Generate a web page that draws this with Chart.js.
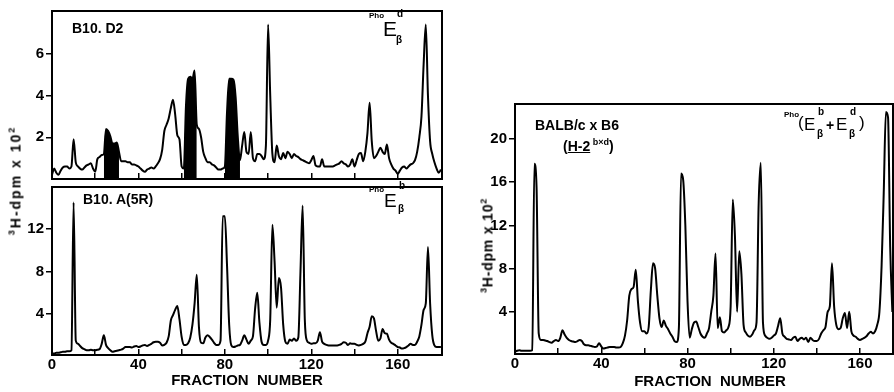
<!DOCTYPE html>
<html>
<head>
<meta charset="utf-8">
<script src="https://cdn.jsdelivr.net/npm/chart.js@4.4.1/dist/chart.umd.min.js"></script>
<style>
html,body{margin:0;padding:0;background:#fff;}
#wrap{position:relative;width:894px;height:392px;overflow:hidden;background:#fff;font-family:'Liberation Sans',Arial,sans-serif;color:#000;}
canvas{position:absolute;}
.t{position:absolute;white-space:nowrap;line-height:1;color:#000;z-index:5;}
.b{font-weight:bold;}
.rot{transform:rotate(-90deg);text-align:center;font-weight:bold;font-size:14px;}
.rot sup{font-size:9px;vertical-align:6px;}
.xt{font-weight:bold;font-size:15px;text-align:center;width:200px;}
</style>
</head>
<body>
<div id="wrap">
<canvas id="cA" width="450" height="190" style="left:0;top:0;width:450px;height:190px"></canvas>
<canvas id="cB" width="450" height="216" style="left:0;top:176px;width:450px;height:216px"></canvas>
<canvas id="cC" width="434" height="302" style="left:460px;top:90px;width:434px;height:302px"></canvas>

<div class="t rot" style="left:-45px;top:173px;width:120px;letter-spacing:2px"><sup>3</sup>H-dpm x 10<sup>2</sup></div>
<div class="t rot" style="left:427px;top:238px;width:120px;letter-spacing:0.8px"><sup>3</sup>H-dpm x 10<sup>2</sup></div>
<div class="t xt" style="left:147px;top:372px">FRACTION&nbsp; NUMBER</div>
<div class="t xt" style="left:610px;top:373px">FRACTION&nbsp; NUMBER</div>

<div class="t b" style="left:72px;top:21px;font-size:14px">B10. D2</div>
<div class="t b" style="left:83px;top:192px;font-size:14px">B10. A(5R)</div>
<div class="t b" style="left:535px;top:118px;font-size:14px">BALB/c x B6</div>
<div class="t b" style="left:563px;top:138px;font-size:14px">(<u>H-2</u><span style="font-size:9px;vertical-align:6px;font-weight:bold"> b×d</span>)</div>

<div class="t b" style="left:369px;top:12px;font-size:8px">Pho</div>
<div class="t" style="left:383px;top:18px;font-size:21px">E</div>
<div class="t b" style="left:397px;top:9px;font-size:10px">d</div>
<div class="t b" style="left:396px;top:35px;font-size:10px">β</div>

<div class="t b" style="left:369px;top:186px;font-size:8px">Pho</div>
<div class="t" style="left:384px;top:191px;font-size:19px">E</div>
<div class="t b" style="left:399px;top:181px;font-size:10px">b</div>
<div class="t b" style="left:398px;top:204px;font-size:10px">β</div>

<div class="t b" style="left:784px;top:111px;font-size:8px">Pho</div>
<div class="t" style="left:798px;top:114px;font-size:17px">(</div>
<div class="t" style="left:804px;top:116px;font-size:17px">E</div>
<div class="t b" style="left:818px;top:107px;font-size:10px">b</div>
<div class="t b" style="left:817px;top:129px;font-size:10px">β</div>
<div class="t b" style="left:826px;top:118px;font-size:14px">+</div>
<div class="t" style="left:836px;top:116px;font-size:17px">E</div>
<div class="t b" style="left:850px;top:107px;font-size:10px">d</div>
<div class="t b" style="left:849px;top:129px;font-size:10px">β</div>
<div class="t" style="left:859px;top:114px;font-size:17px">)</div>
</div>

<script>
// ---- categories: fraction numbers ----
const fractions = [0,1,2,3,4,5,6,7,8,9,10,11,12,13,14,15,16,17,18,19,20,21,22,23,24,25,26,27,28,29,30,31,32,33,34,35,36,37,38,39,40,41,42,43,44,45,46,47,48,49,50,51,52,53,54,55,56,57,58,59,60,61,62,63,64,65,66,67,68,69,70,71,72,73,74,75,76,77,78,79,80,81,82,83,84,85,86,87,88,89,90,91,92,93,94,95,96,97,98,99,100,101,102,103,104,105,106,107,108,109,110,111,112,113,114,115,116,117,118,119,120,121,122,123,124,125,126,127,128,129,130,131,132,133,134,135,136,137,138,139,140,141,142,143,144,145,146,147,148,149,150,151,152,153,154,155,156,157,158,159,160,161,162,163,164,165,166,167,168,169,170,171,172,173,174,175,176,177,178,179,180];

// ---- B10.D2 (PhoE beta d), 3H-dpm x 10^2 ----
const b10d2 = [0.2,0.5,0.3,0.2,0.4,0.55,0.6,0.6,0.5,0.6,
 1.9,0.8,0.6,0.5,0.45,0.55,0.65,0.7,0.75,0.5,
 0.35,0.95,1.05,1.15,1.2,2.4,2.3,2.05,1.7,1.7,
 1.75,1.3,0.85,0.85,0.85,0.8,0.8,0.7,0.7,0.65,
 0.6,0.5,0.4,0.35,0.45,0.5,0.55,0.5,0.6,0.75,
 0.95,1.4,2.3,2.6,2.9,3.4,3.8,3.1,2.1,1.9,
 0.6,0.5,3.5,4.8,4.9,4.8,5.2,2.6,2.4,2.0,
 1.3,1.0,0.8,0.8,0.7,0.65,0.55,0.45,0.45,0.5,
 0.6,3.2,4.8,4.8,4.75,3.9,2.0,0.9,1.6,2.25,
 1.3,1.2,2.25,1.0,0.85,1.2,1.2,1.1,0.95,1.6,
 7.4,4.0,1.2,0.8,1.6,1.1,0.95,1.25,1.0,1.3,
 1.2,1.0,1.2,1.1,1.05,0.95,0.9,0.85,0.8,0.75,
 0.9,1.1,0.65,0.6,0.6,0.95,0.6,0.6,0.6,0.6,
 0.6,0.65,0.7,0.75,0.85,0.75,0.7,0.6,0.7,0.95,
 0.6,0.9,1.2,1.25,0.85,1.3,2.2,3.65,1.8,1.0,
 1.1,1.3,1.5,1.3,1.2,1.65,1.0,0.7,0.5,0.4,
 0.25,0.4,0.55,0.6,0.5,0.6,0.7,0.75,0.9,1.3,
 2.0,3.0,5.5,7.4,4.0,1.8,1.2,0.8,0.5,0.3,
 0.45];
// shaded (blackened) peaks in B10.D2, fraction ranges
const shadedRanges = [[24,31],[61,67],[80,87]];

// ---- B10.A(5R) (PhoE beta b) ----
const b10a5r = [0.3,0.3,0.35,0.35,0.4,0.45,0.45,0.5,0.5,0.6,
 14.5,1.5,1.2,1.0,0.8,0.7,0.6,0.6,0.65,0.6,
 0.6,0.65,0.7,1.2,2.0,1.1,0.8,0.6,0.45,0.5,
 0.55,0.6,0.65,0.75,0.9,0.9,0.9,0.85,0.95,1.0,
 0.9,0.95,1.05,1.1,1.0,1.1,1.2,1.35,1.4,1.4,
 1.3,1.05,1.1,1.3,1.9,3.4,3.9,4.4,4.75,3.5,
 1.85,1.1,1.1,1.25,1.8,3.0,5.0,7.7,2.8,1.3,
 1.25,1.8,2.0,1.85,1.6,1.3,1.1,1.1,1.5,13.2,
 13.2,8.6,3.0,1.05,0.9,0.95,1.05,1.1,1.5,2.0,
 1.6,1.2,1.5,1.9,4.5,6.0,3.2,1.4,1.1,1.1,
 1.5,3.5,12.4,9.0,4.6,7.4,6.5,3.0,1.4,1.2,
 1.6,1.5,1.7,1.5,1.8,8.0,14.2,3.5,1.5,1.3,
 1.2,1.25,1.25,1.5,2.3,1.4,1.2,1.1,1.05,1.05,
 1.05,1.05,1.05,1.1,1.2,1.35,1.3,1.1,1.25,1.2,
 1.2,1.1,1.05,1.1,1.2,1.4,2.2,2.8,3.8,3.6,
 2.4,1.5,1.7,2.6,2.2,2.15,1.6,1.3,1.2,1.05,
 0.9,0.85,0.75,0.8,0.9,1.05,1.2,1.1,1.1,1.4,
 1.9,3.0,4.4,5.0,10.3,5.0,2.0,1.05,0.9,0.9,
 0.9];

// ---- BALB/c x B6 (H-2 b x d), Pho(E beta b + E beta d) ----
const balbxb6 = [0.3,0.4,0.45,0.4,0.4,0.4,0.4,0.4,0.45,17.7,
 15.5,2.0,1.4,1.4,1.35,1.3,1.2,1.15,1.3,1.4,
 1.3,1.6,2.3,1.9,1.6,1.4,1.3,1.25,1.2,1.3,
 1.4,1.3,1.0,0.9,0.9,0.85,0.8,0.75,0.8,1.1,
 0.8,0.6,0.65,0.7,0.75,0.75,0.75,0.7,0.7,0.75,
 1.1,1.8,3.2,5.5,6.1,6.3,7.9,5.0,3.0,2.2,
 2.2,2.0,2.6,6.0,8.5,8.0,5.5,3.4,2.6,3.2,
 2.7,2.4,2.0,1.7,1.3,1.2,2.5,16.8,16.2,12.0,
 5.0,1.6,2.4,3.0,3.1,2.6,2.0,1.7,1.6,2.0,
 2.5,4.0,5.5,9.4,2.5,3.5,2.2,2.1,2.3,2.6,
 4.5,14.4,11.0,4.0,9.6,7.5,2.8,2.1,1.8,1.7,
 1.9,2.3,3.0,14.0,17.8,3.0,1.8,1.6,1.5,1.6,
 1.8,2.0,2.7,3.4,2.0,1.7,1.5,1.45,1.4,1.6,
 1.7,1.3,1.5,1.6,1.45,1.6,1.2,1.6,1.4,1.3,
 1.3,1.5,2.0,2.3,2.6,4.0,4.5,8.5,4.5,2.8,
 2.4,2.5,3.4,3.9,2.5,4.0,2.2,1.8,1.7,1.5,
 1.4,1.5,1.6,1.75,2.0,2.15,2.0,2.2,2.8,4.0,
 8.2,15.0,22.5,22.0,10.0,4.0];

// ---- tick labels ----
const xTicks = [0,20,40,60,80,100,120,140,160];
const xLabelled = [0,40,80,120,160];
const yTicksA = [2,4,6];
const yTicksB = [4,8,12];
const yTicksC = [4,8,12,16,20];

// derived shaded series (values from b10d2 only inside shaded ranges)
const b10d2Shaded = b10d2.map((v, i) => shadedRanges.some(r => fractions[i] >= r[0] && fractions[i] <= r[1]) ? v : null);

const framePlugin = {
  id: 'frame',
  afterDraw(chart) {
    const {ctx, chartArea: a} = chart;
    ctx.save();
    ctx.strokeStyle = '#000';
    ctx.lineWidth = 2;
    ctx.strokeRect(a.left, a.top, a.right - a.left, a.bottom - a.top);
    ctx.restore();
  }
};

const tickFont = {family: "'Liberation Sans', Arial, sans-serif", size: 15, weight: 'bold'};

function makeChart(id, cfg) {
  const datasets = [{
    data: cfg.values,
    borderColor: '#000',
    borderWidth: 2,
    pointRadius: 0,
    fill: false,
    cubicInterpolationMode: 'monotone',
    order: 1
  }];
  if (cfg.shaded) {
    datasets.push({
      data: cfg.shaded,
      borderColor: '#000',
      borderWidth: 0,
      backgroundColor: '#000',
      pointRadius: 0,
      fill: 'origin',
      spanGaps: false,
      cubicInterpolationMode: 'monotone',
      order: 2
    });
  }
  return new Chart(document.getElementById(id), {
    type: 'line',
    data: {labels: fractions.slice(0, cfg.values.length), datasets},
    options: {
      responsive: false,
      animation: false,
      devicePixelRatio: 1,
      layout: {padding: cfg.padding},
      plugins: {legend: {display: false}, tooltip: {enabled: false}},
      scales: {
        x: {
          type: 'linear',
          min: 0,
          max: cfg.xMax,
          afterBuildTicks: s => { s.ticks = xTicks.map(v => ({value: v})); },
          afterFit: s => { s.height = cfg.xHeight; },
          border: {display: false},
          grid: {display: true, drawOnChartArea: false, drawTicks: true, tickLength: -6, color: '#000', lineWidth: 1.5},
          ticks: {
            display: cfg.xLabels,
            autoSkip: false,
            maxRotation: 0,
            padding: 7,
            color: '#000',
            font: tickFont,
            callback: v => xLabelled.includes(v) ? String(v) : ''
          }
        },
        y: {
          min: cfg.yMin,
          max: cfg.yMax,
          afterBuildTicks: s => { s.ticks = cfg.yTicks.map(v => ({value: v})); },
          afterFit: s => { s.width = cfg.yWidth; },
          border: {display: false},
          grid: {display: true, drawOnChartArea: false, drawTicks: true, tickLength: 6, color: '#000', lineWidth: 1.5},
          ticks: {padding: 2, color: '#000', font: tickFont, autoSkip: false}
        }
      }
    },
    plugins: [framePlugin]
  });
}

makeChart('cA', {values: b10d2, shaded: b10d2Shaded, padding: {top: 8, right: 8, left: 0, bottom: 0},
  xMax: 180.5, xHeight: 6, xLabels: false, yMin: 0, yMax: 8.05, yTicks: yTicksA, yWidth: 52});
makeChart('cB', {values: b10a5r, padding: {top: 8, right: 8, left: 0, bottom: 0},
  xMax: 180.5, xHeight: 37, xLabels: true, yMin: 0.15, yMax: 15.95, yTicks: yTicksB, yWidth: 52});
makeChart('cC', {values: balbxb6, padding: {top: 14, right: 1, left: 0, bottom: 0},
  xMax: 175.3, xHeight: 38, xLabels: true, yMin: 0.1, yMax: 23.24, yTicks: yTicksC, yWidth: 55});
</script>
</body>
</html>
